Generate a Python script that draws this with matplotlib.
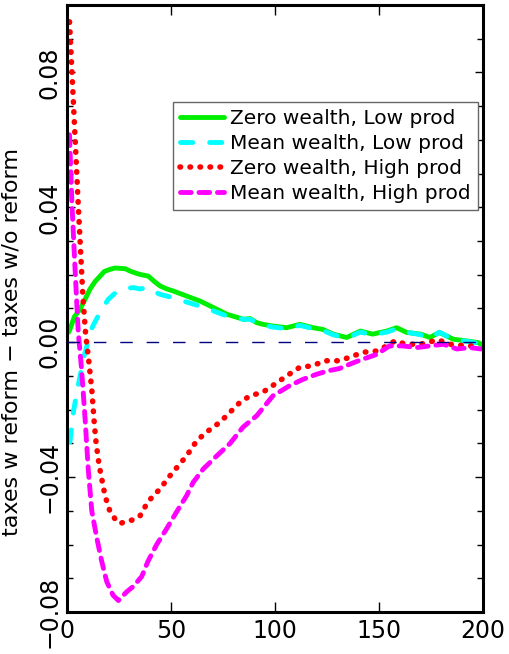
import matplotlib
matplotlib.use('Agg')
import matplotlib.pyplot as plt
from matplotlib.ticker import MultipleLocator, FuncFormatter

# Zero wealth, Low prod
green_x = [0.8, 1.4, 3.5, 6.3, 8.5, 11, 13.5, 15.9, 18, 20.7, 23, 25.5, 28, 30.3, 33, 35.1, 39.1, 42,
           44.7, 48, 51, 57.5, 64, 70.3, 76.8, 84.8, 88, 91.2, 94.2, 99, 105.6, 112, 118.3, 123, 128,
           134.5, 141, 147, 153.7, 158.5, 163.3, 170, 174.5, 179, 185.7, 192, 197.6, 200]
green_y = [0.0030, 0.0038, 0.0075, 0.0098, 0.0125, 0.0157, 0.0180, 0.0196, 0.0210, 0.0216, 0.0220,
           0.0219, 0.0218, 0.0211, 0.0205, 0.0201, 0.0196, 0.0180, 0.0167, 0.0158, 0.0152, 0.0137,
           0.0122, 0.0103, 0.0083, 0.0068, 0.0070, 0.0058, 0.0053, 0.0048, 0.0043, 0.0053, 0.0043,
           0.0038, 0.0024, 0.0014, 0.0033, 0.0024, 0.0033, 0.0043, 0.0029, 0.0024, 0.0014, 0.0029,
           0.0009, 0.0004, -0.0001, -0.0010]

# Mean wealth, Low prod
cyan_x = [1.4, 3.0, 4.7, 6.3, 7.8, 9.5, 11.0, 12.6, 15.9, 19.8, 23, 26.3, 29, 31.9, 35, 39.1, 42, 44.7,
          51, 57.5, 64, 70.3, 76.8, 84.8, 88, 92.8, 99, 105.6, 112, 118.3, 123, 128, 134.5, 141, 147,
          153.7, 158.5, 163.3, 170, 174.5, 179, 185.7, 192, 197.6, 200]
cyan_y = [-0.0296, -0.0210, -0.0148, -0.0100, -0.0050, -0.0012, 0.0030, 0.0050, 0.0089, 0.0127,
          0.0145, 0.0152, 0.0160, 0.0162, 0.0158, 0.0162, 0.0150, 0.0142, 0.0132, 0.0119, 0.0107,
          0.0093, 0.0078, 0.0068, 0.0068, 0.0053, 0.0045, 0.0040, 0.0050, 0.0040, 0.0035, 0.0022,
          0.0012, 0.0030, 0.0022, 0.0030, 0.0040, 0.0030, 0.0022, 0.0012, 0.0030, 0.0008, 0.0003,
          -0.0003, -0.0010]

# Zero wealth, High prod
red_x = [1.2, 3.0, 5.3, 7.7, 9.0, 10.2, 11.9, 13.1, 14.0, 15.5, 18.3, 20.7, 23.1, 25.5, 28.7, 31.7,
         35.1, 38.9, 44.7, 49.5, 57.5, 62.4, 67.2, 73.6, 83.2, 88, 94.2, 100, 105.6, 112, 118, 124,
         130, 136, 142, 149, 153.7, 157.7, 163, 170, 178.4, 184, 192, 198]
red_y = [0.0950, 0.0720, 0.0420, 0.0127, 0.0020, -0.0040, -0.0140, -0.0240, -0.0300, -0.0367,
         -0.0456, -0.0503, -0.0524, -0.0538, -0.0530, -0.0527, -0.0515, -0.0473, -0.0435, -0.0396,
         -0.0337, -0.0292, -0.0266, -0.0237, -0.0178, -0.0159, -0.0148, -0.0124, -0.0100, -0.0074,
         -0.0070, -0.0055, -0.0055, -0.0045, -0.0030, -0.0026, -0.0011, 0.0004, -0.0006, -0.0006,
         0.0007, -0.0006, -0.0011, -0.0011]

# Mean wealth, High prod
mag_x = [1.2, 2.3, 3.8, 5.4, 7.0, 8.7, 10.2, 11.9, 14.3, 16.7, 19.1, 22.1, 24.7, 28.7, 31.7, 35.9,
         38.9, 43.1, 47.9, 52.7, 57.5, 60.7, 65.5, 72.0, 78.4, 84.6, 91.2, 99, 107, 113.5, 120, 125.5,
         131, 136, 142.3, 149, 155, 161.5, 168, 174.5, 181, 187.4, 193.8, 199]
mag_y = [0.0615, 0.0420, 0.0225, 0.0030, -0.0080, -0.0228, -0.0376, -0.0500, -0.0580, -0.0650,
         -0.0710, -0.0750, -0.0766, -0.0740, -0.0725, -0.0695, -0.0650, -0.0600, -0.0553, -0.0503,
         -0.0455, -0.0415, -0.0376, -0.0337, -0.0300, -0.0252, -0.0218, -0.0159, -0.0129, -0.0110,
         -0.0095, -0.0085, -0.0078, -0.0065, -0.0050, -0.0036, -0.0011, -0.0011, -0.0016, -0.0011,
         -0.0006, -0.0020, -0.0016, -0.0020]

labels = ['Zero wealth, Low prod', 'Mean wealth, Low prod',
          'Zero wealth, High prod', 'Mean wealth, High prod']

fig = plt.figure(figsize=(5.1, 6.54), dpi=100)
ax = fig.add_axes([0.1314, 0.0642, 0.8156, 0.9282])

ax.plot(green_x, green_y, color='#00ee00', lw=3.5, solid_capstyle='round', label=labels[0])
ax.plot(cyan_x, cyan_y, color='cyan', lw=3.5, linestyle=(0, (2.5, 3.5)),
        dash_capstyle='round', label=labels[1])
ax.plot(red_x, red_y, color='red', lw=4, linestyle=(0, (0.1, 1.7)),
        dash_capstyle='round', label=labels[2])
ax.plot(mag_x, mag_y, color='magenta', lw=3.5, linestyle=(0, (2.2, 1.6)),
        dash_capstyle='round', label=labels[3])
ax.axhline(0, color='navy', lw=1, linestyle=(0, (9, 10)), zorder=5)

ax.set_xlim(0, 200)
ax.set_ylim(-0.08, 0.10)

ax.xaxis.set_major_locator(MultipleLocator(50))
ax.yaxis.set_major_locator(MultipleLocator(0.04))
ax.yaxis.set_minor_locator(MultipleLocator(0.01))
ax.yaxis.set_major_formatter(FuncFormatter(lambda v, p: f'{v:.2f}'.replace('-', '\u2212')))

ax.tick_params(axis='x', direction='in', length=7, width=1, top=True, labelsize=17, pad=5)
ax.tick_params(axis='y', which='major', direction='in', length=6, width=1, right=True,
               labelsize=17, pad=4)
ax.tick_params(axis='y', which='minor', direction='in', length=4, width=1, right=True)
for lab in ax.get_yticklabels():
    lab.set_rotation(90)
    lab.set_va('center')

for sp in ax.spines.values():
    sp.set_linewidth(2.2)

ax.set_ylabel('taxes w reform \u2212 taxes w/o reform', fontsize=16)
ax.yaxis.set_label_coords(-0.11, 0.445)

leg = ax.legend(loc='upper right', bbox_to_anchor=(0.988, 0.84), borderaxespad=0,
                fontsize=14.5, fancybox=False, framealpha=1, edgecolor='#666666',
                handlelength=2.2, handletextpad=0.3, labelspacing=0.3, borderpad=0.35)
leg.get_frame().set_linewidth(1)

fig.savefig('out.png', dpi=100)
